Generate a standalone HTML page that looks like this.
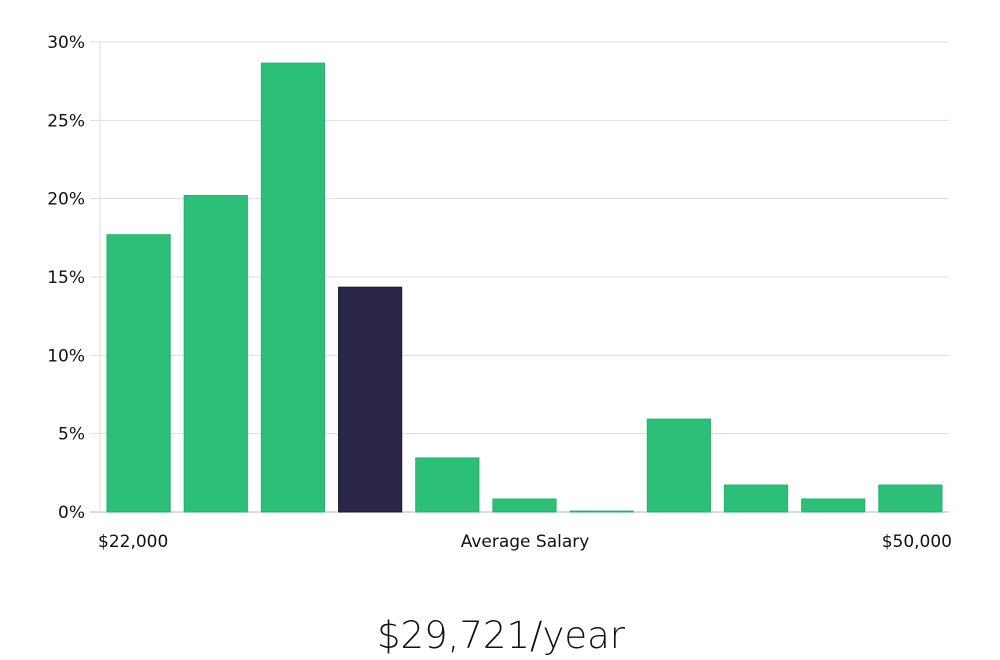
<!DOCTYPE html>
<html><head><meta charset="utf-8"><style>
body{margin:0;background:#fff;}
svg{display:block;font-family:"DejaVu Sans","Liberation Sans",sans-serif;}
</style></head><body>
<svg id="chart" width="1000" height="660"></svg>
<script>
const categories=["b1","b2","b3","b4","b5","b6","b7","b8","b9","b10","b11"];
const values=[17.7,20.2,28.65,14.35,3.45,0.83,0.06,5.93,1.72,0.83,1.72];
const highlight=[false,false,false,true,false,false,false,false,false,false,false];
const yTicks=[0,5,10,15,20,25,30];
const yTickLabels=["0%","5%","10%","15%","20%","25%","30%"];
const svg=document.getElementById('chart');
const NS="http://www.w3.org/2000/svg";
const L=100,R=949,T=42,B=512,yMax=30;
const y=v=>B-(v/yMax)*(B-T);
const step=(R-L)/categories.length;
const x=i=>L+i*step;
function mk(t,a,p){const e=document.createElementNS(NS,t);for(const k in a)e.setAttribute(k,a[k]);(p||svg).appendChild(e);return e;}
yTicks.forEach((t,i)=>{
  const g=mk('line',{x1:L-10,x2:R,y1:y(t),y2:y(t),stroke:i==0?'#bbb':'#ddd','stroke-width':1});
  
  
  const tx=mk('text',{x:85,y:y(t)+6,'text-anchor':'end','font-size':17,fill:'#111'});
  tx.textContent=yTickLabels[i];
  
  
});
const ax=mk('line',{x1:L,x2:L,y1:T,y2:B,stroke:'#ddd'});


values.forEach((v,i)=>{
  const r=mk('rect',{x:x(i)+7,y:y(v),width:step-14,height:B-y(v),fill:highlight[i]?'#2a2645':'#2bbf78',stroke:highlight[i]?'#1d1a36':'#25b06d','stroke-width':1});
  
  
});
[["$22,000",98,'start','x-min-label'],["Average Salary",525,'middle','x-axis-title'],["$50,000",952,'end','x-max-label']].forEach(d=>{
  const t=mk('text',{x:d[1],y:547,'text-anchor':d[2],'font-size':17,fill:'#111'});
  t.textContent=d[0];
  
  
});
const s=mk('text',{x:501,y:648,'text-anchor':'middle','font-size':37,fill:'#111','font-weight':300});
s.textContent="$29,721/year";


</script>
</body></html>
